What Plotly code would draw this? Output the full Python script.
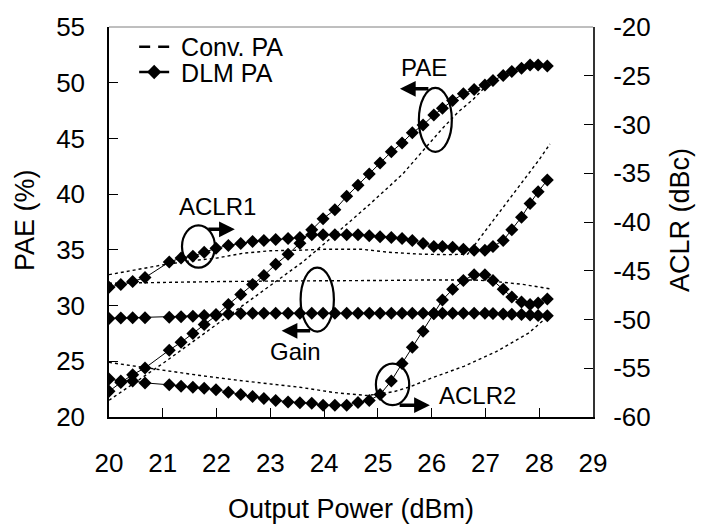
import plotly.graph_objects as go

# ---------------- data ----------------
# DLM PA sweep (output power, dBm)
dlm_pout = [20.0, 20.22, 20.44, 20.67, 21.12, 21.34, 21.56, 21.77, 21.99, 22.22,
            22.45, 22.67, 22.88, 23.10, 23.33, 23.55, 23.77, 23.98, 24.20, 24.42,
            24.63, 24.84, 25.04, 25.25, 25.45, 25.64, 25.84, 26.04, 26.20, 26.39,
            26.59, 26.79, 26.99, 27.14, 27.33, 27.49, 27.67, 27.83, 27.98, 28.15]
dlm_pae = [22.3, 23.1, 23.8, 24.4, 26.0, 26.7, 27.5, 28.3, 29.1, 30.1,
           31.0, 31.9, 32.7, 33.7, 34.6, 35.6, 36.8, 37.8, 38.6, 39.8,
           40.8, 41.8, 42.8, 43.8, 44.6, 45.5, 46.2, 47.1, 47.7, 48.4,
           49.0, 49.4, 49.8, 50.2, 50.65, 51.0, 51.3, 51.6, 51.6, 51.5]
dlm_gain = [28.85, 28.88, 28.9, 28.9, 28.95, 29.0, 29.05, 29.1, 29.2, 29.25,
            29.28, 29.3, 29.3, 29.3, 29.3, 29.3, 29.3, 29.3, 29.3, 29.3,
            29.3, 29.3, 29.3, 29.3, 29.3, 29.3, 29.3, 29.3, 29.3, 29.3,
            29.3, 29.3, 29.3, 29.28, 29.25, 29.22, 29.2, 29.15, 29.12, 29.08]
dlm_aclr1 = [-46.7, -46.4, -46.1, -45.7, -44.1, -43.7, -43.5, -43.1, -42.7, -42.4,
             -42.2, -42.0, -41.9, -41.8, -41.7, -41.6, -41.3, -41.3, -41.3, -41.3,
             -41.3, -41.4, -41.5, -41.6, -41.7, -41.9, -42.2, -42.5, -42.5, -42.6,
             -42.8, -42.9, -42.9, -42.5, -41.9, -40.8, -39.5, -38.1, -36.9, -35.7]
dlm_aclr2 = [-56.1, -56.3, -56.3, -56.5, -56.7, -56.85, -56.95, -57.05, -57.2, -57.45,
             -57.7, -57.9, -58.1, -58.3, -58.45, -58.55, -58.6, -58.8, -58.8, -58.8,
             -58.5, -58.3, -57.7, -56.3, -54.5, -52.85, -51.2, -49.4, -48.0, -46.9,
             -46.0, -45.4, -45.4, -46.0, -46.9, -47.7, -48.2, -48.45, -48.3, -47.9]

# Conventional PA (dotted)
conv_pae_pout = [20.0, 21.0, 22.0, 23.0, 23.6, 24.16, 24.85, 25.46, 26.2, 26.5, 26.77, 26.95, 27.14]
conv_pae = [21.5, 24.8, 28.3, 31.8, 33.9, 36.2, 39.1, 41.8, 45.9, 47.4, 48.5, 49.4, 50.2]
conv_gain_pout = [20.0, 21.0, 22.0, 23.0, 24.0, 25.0, 26.0, 26.8, 27.2, 27.7, 28.2]
conv_gain = [32.0, 32.1, 32.15, 32.2, 32.2, 32.25, 32.3, 32.3, 32.15, 31.9, 31.5]
conv_aclr1_pout = [20.0, 20.5, 21.0, 21.5, 22.0, 22.5, 23.0, 23.5, 24.0, 24.7, 25.2, 25.8, 26.3, 26.67, 27.0, 27.5, 28.0, 28.2]
conv_aclr1 = [-45.4, -44.9, -44.4, -44.0, -43.7, -43.2, -42.95, -42.9, -42.8, -42.8, -43.1, -43.3, -43.35, -43.3, -40.9, -37.2, -33.6, -32.0]
conv_aclr2_pout = [20.0, 21.0, 21.7, 22.5, 23.0, 23.55, 24.2, 24.8, 25.3, 25.6, 26.0, 26.6, 27.2, 27.8, 28.2]
conv_aclr2 = [-54.4, -55.2, -55.75, -56.3, -56.6, -56.95, -57.5, -57.8, -57.4, -56.9, -56.0, -54.8, -53.3, -51.4, -49.5]

x_ticks = [20, 21, 22, 23, 24, 25, 26, 27, 28, 29]
pae_ticks = [20, 25, 30, 35, 40, 45, 50, 55]
aclr_ticks = [-60, -55, -50, -45, -40, -35, -30, -25, -20]
aclr_tick_text = ["-60", "-55", "-50", "-45", "-40", "-35", "-30", "-25", "-20"]

FONT = "Liberation Sans, Arial, sans-serif"

fig = go.Figure()

conv_style = dict(color="black", width=1.4, dash="3px,3px")
dlm_line = dict(color="black", width=1)
dlm_marker = dict(symbol="diamond", size=10, color="black")

# conventional
fig.add_trace(go.Scatter(x=conv_pae_pout, y=conv_pae, mode="lines", line=conv_style, showlegend=False))
fig.add_trace(go.Scatter(x=conv_gain_pout, y=conv_gain, mode="lines", line=conv_style, showlegend=False))
fig.add_trace(go.Scatter(x=conv_aclr1_pout, y=conv_aclr1, mode="lines", line=conv_style, showlegend=False, yaxis="y2"))
fig.add_trace(go.Scatter(x=conv_aclr2_pout, y=conv_aclr2, mode="lines", line=conv_style, showlegend=False, yaxis="y2"))
# DLM
fig.add_trace(go.Scatter(x=dlm_pout, y=dlm_pae, mode="lines+markers", line=dlm_line, marker=dlm_marker, showlegend=False))
fig.add_trace(go.Scatter(x=dlm_pout, y=dlm_gain, mode="lines+markers", line=dlm_line, marker=dlm_marker, showlegend=False))
fig.add_trace(go.Scatter(x=dlm_pout, y=dlm_aclr1, mode="lines+markers", line=dlm_line, marker=dlm_marker, showlegend=False, yaxis="y2"))
fig.add_trace(go.Scatter(x=dlm_pout, y=dlm_aclr2, mode="lines+markers", line=dlm_line, marker=dlm_marker, showlegend=False, yaxis="y2"))

# legend entries
fig.add_trace(go.Scatter(x=[None], y=[None], mode="lines", name=" Conv. PA",
                         line=dict(color="black", width=2.5, dash="11px,8px"), legend="legend"))
fig.add_trace(go.Scatter(x=[None], y=[None], mode="lines+markers", name=" DLM PA",
                         line=dict(color="black", width=2.5), marker=dict(symbol="diamond", size=11, color="black"),
                         legend="legend2"))

base = dict(ticks="inside", ticklen=9, tickcolor="black", tickwidth=1,
            showgrid=False, zeroline=False, showline=True)

fig.update_layout(
    width=702, height=531,
    margin=dict(l=109, r=109, t=20, b=114),
    paper_bgcolor="white", plot_bgcolor="white",
    font=dict(family=FONT, color="black"),
    xaxis=dict(range=[20, 29], tickvals=x_ticks, linewidth=1.5, linecolor="black", ticklabelstandoff=22,
               tickfont=dict(family=FONT, size=26, color="black"), **base),
    yaxis=dict(range=[20, 55], tickvals=pae_ticks, linewidth=1.5, linecolor="black", ticklabelstandoff=17,
               tickfont=dict(family=FONT, size=26, color="black"), **base),
    yaxis2=dict(range=[-60, -20], tickvals=aclr_ticks, ticktext=aclr_tick_text, overlaying="y", side="right",
                linewidth=2, linecolor="#333333", ticklabelstandoff=13,
                tickfont=dict(family=FONT, size=26, color="black"), **base),
    legend=dict(x=0.052, y=1.008, xanchor="left", yanchor="top", bgcolor="rgba(0,0,0,0)",
                font=dict(family=FONT, size=25, color="black")),
    legend2=dict(x=0.052, y=0.943, xanchor="left", yanchor="top", bgcolor="rgba(0,0,0,0)",
                 font=dict(family=FONT, size=25, color="black")),
)

# top frame line
fig.add_shape(type="line", xref="paper", yref="paper", x0=0, x1=1, y0=1, y1=1,
              line=dict(color="#7f7f7f", width=1))

# ellipses (data coordinates, left axis)
ellipses = [
    (21.357, 21.970, 33.40, 37.19),   # ACLR1
    (25.762, 26.375, 43.80, 49.53),   # PAE
    (23.563, 24.182, 27.67, 33.40),   # Gain
    (24.963, 25.582, 21.06, 24.79),   # ACLR2
]
for x0, x1, y0, y1 in ellipses:
    fig.add_shape(type="circle", xref="x", yref="y", x0=x0, x1=x1, y0=y0, y1=y1,
                  line=dict(color="black", width=2.2))

# arrows (tail -> head)
arrows = [
    (21.82, 36.84, 22.34, 36.84),
    (25.967, 49.45, 25.41, 49.45),
    (23.768, 27.73, 23.21, 27.73),
    (25.377, 21.06, 25.967, 21.06),
]
for tx, ty, hx, hy in arrows:
    fig.add_annotation(x=hx, y=hy, ax=tx, ay=ty, xref="x", yref="y", axref="x", ayref="y",
                       text="", showarrow=True, arrowhead=2, arrowsize=0.9, arrowwidth=3.5,
                       arrowcolor="black")

labels = [("ACLR1", 22.026, 38.87), ("PAE", 25.855, 51.385), ("Gain", 23.467, 25.86), ("ACLR2", 26.859, 21.94)]
for txt, lx, ly in labels:
    fig.add_annotation(x=lx, y=ly, xref="x", yref="y", text=txt, showarrow=False,
                       xanchor="center", yanchor="middle",
                       font=dict(family=FONT, size=24, color="black"))

# axis titles
fig.add_annotation(x=-0.1736, y=0.505, xref="paper", yref="paper", text="PAE (%)", textangle=-90,
                   xanchor="center", yanchor="middle",
                   showarrow=False, font=dict(family=FONT, size=27, color="black"))
fig.add_annotation(x=1.1798, y=0.505, xref="paper", yref="paper", text="ACLR (dBc)", textangle=-90,
                   xanchor="center", yanchor="middle",
                   showarrow=False, font=dict(family=FONT, size=27, color="black"))
fig.add_annotation(x=0.5, y=-0.2368, xref="paper", yref="paper", text="Output Power (dBm)",
                   xanchor="center", yanchor="middle",
                   showarrow=False, font=dict(family=FONT, size=27, color="black"))

fig.write_html("out.html")
